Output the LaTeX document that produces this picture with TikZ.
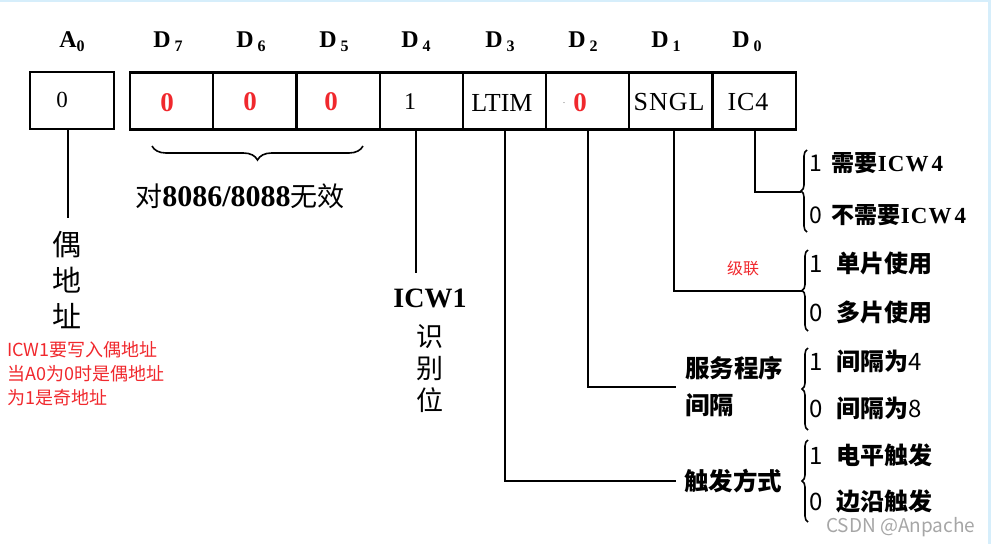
\documentclass[tikz,border=0pt]{standalone}
\usepackage{fontspec}
\setmainfont{Liberation Serif}
\newfontfamily\cjk{Noto Sans CJK SC}
\newcommand{\cjkb}{\cjk\bfseries}
\newcommand{\serb}{\rmfamily}
\usetikzlibrary{decorations.pathreplacing}
\definecolor{redtxt}{HTML}{F0282D}
\definecolor{edgeblue}{HTML}{D6EEFB}
\tikzset{
  cell/.style={draw, line width=2.2pt, minimum width=83.2pt, minimum height=57pt, inner sep=0pt, anchor=center},
  wire/.style={line width=2pt},
  bitlab/.style={font=\fontsize{24}{26}\selectfont\bfseries, inner sep=0pt},
  celltxt/.style={font=\serb\fontsize{26}{28}\selectfont, inner sep=0pt},
  redzero/.style={font=\fontsize{27}{29}\selectfont\bfseries, text=redtxt, inner sep=0pt},
  opt/.style={font=\cjk\fontsize{24}{26}\selectfont, anchor=west, inner sep=0pt},
  big/.style={font=\cjk\fontsize{29}{31}\selectfont, inner sep=0pt},
  brc/.style={decorate, decoration={brace, amplitude=6pt}, line width=1.6pt},
  note/.style={font=\cjk\fontsize{18}{24}\selectfont, text=redtxt, anchor=west, inner sep=0pt, align=left},
}
\newcommand{\bitsub}[1]{\raisebox{-4pt}{\fontsize{16}{16}\selectfont\bfseries #1}}
\begin{document}
\begin{tikzpicture}[x=1pt, y=-1pt]
\useasboundingbox (0,0) rectangle (991,544);
\fill[edgeblue] (0,0) rectangle (991,1.5);
\fill[edgeblue] (988,0) rectangle (991,544);

% bit labels
\node[bitlab] (lA0) at (72,42) {A\bitsub{0}};
\node[bitlab] (lD7) at (168,42) {D\,\bitsub{7}};
\node[bitlab] (lD6) at (251,42) {D\,\bitsub{6}};
\node[bitlab] (lD5) at (334,42) {D\,\bitsub{5}};
\node[bitlab] (lD4) at (416,42) {D\,\bitsub{4}};
\node[bitlab] (lD3) at (500,42) {D\,\bitsub{3}};
\node[bitlab] (lD2) at (583,42) {D\,\bitsub{2}};
\node[bitlab] (lD1) at (666,42) {D\,\bitsub{1}};
\node[bitlab] (lD0) at (747,42) {D\,\bitsub{0}};

% cells
\node[cell, minimum width=84pt] (a0) at (72,100.5) {};
\node[cell] (d7) at (171.6,101) {};
\node[cell] (d6) at (254.8,101) {};
\node[cell] (d5) at (338.0,101) {};
\node[cell] (d4) at (421.2,101) {};
\node[cell] (d3) at (504.4,101) {};
\node[cell] (d2) at (587.6,101) {};
\node[cell] (d1) at (670.8,101) {};
\node[cell] (d0) at (754.0,101) {};

\node[celltxt, font=\fontsize{23}{25}\selectfont] (t0) at (62,100) {0};
\node[redzero] (t7) at (167,103) {0};
\node[redzero] (t6) at (250,102) {0};
\node[redzero] (t5) at (331,102) {0};
\node[celltxt, font=\fontsize{24}{25}\selectfont] (t4) at (410,102) {1};
\node[celltxt] (t3) at (502,103) {LTIM};
\node[celltxt, text=gray] (dot) at (564,103) {\fontsize{10}{10}\selectfont .};
\node[redzero] (t2) at (580,103) {0};
\node[celltxt] (t1) at (669,102) {S\kern1pt N\kern1pt G\kern1pt L};
\node[celltxt] (tc) at (748,102) {I\kern1pt C\kern1pt 4};

% brace under D7-D5
\coordinate (b1) at (363,146);
\coordinate (b2) at (152,146);
\draw[brc, decoration={amplitude=14pt}] (b1) -- (b2);
\node[inner sep=0pt, font=\cjk\fontsize{27}{29}\selectfont] (inval) at (240,196) {对{\rmfamily\bfseries\fontsize{30}{32}\selectfont 8086/8088}无效};

% A0
\node[big, align=center] (even) at (67,280) {偶\\[5pt]地\\[5pt]址};
\draw[wire] ([xshift=-4pt]a0.south) -- ([xshift=-4pt]a0.south |- 0,218) coordinate (ea);
\node[note] (n1) at (7,374) {ICW1要写入偶地址\\当A0为0时是偶地址\\为1是奇地址};

% D4
\coordinate (e4) at (416,273);
\draw[wire] (d4.south -| e4) -- (e4);
\node[inner sep=0pt, align=center, font=\fontsize{28}{30}\selectfont\bfseries] (icw1) at (430,298) {ICW1};
\node[big, align=center, font=\cjk\fontsize{27}{29}\selectfont] (sbw) at (430,369) {识\\[3pt]别\\[3pt]位};

% D0 IC4
\coordinate (k0) at (755,192);
\coordinate (tip0) at (801,192);
\draw[wire] (d0.south -| k0) -- (k0) -- (tip0);
\draw[brc] (807,232) -- (807,150);
\node[opt, font=\cjk\fontsize{23}{24}\selectfont] (o01) at (809,163) {1\hspace{10pt}{\cjkb 需要}{\serb\bfseries I\kern1pt C\kern1pt W\kern3pt 4}};
\node[opt, font=\cjk\fontsize{23}{24}\selectfont] (o00) at (809,215) {0\hspace{10pt}{\cjkb 不需要}{\serb\bfseries I\kern1pt C\kern1pt W\kern3pt 4}};

% D1 SNGL
\coordinate (k1) at (674,291);
\coordinate (tip1) at (802,291);
\draw[wire] (d1.south -| k1) -- (k1) -- (tip1);
\draw[brc] (808,331) -- (808,250);
\node[opt] (o11) at (809,263) {1\hspace{14pt}{\cjkb 单片使用}};
\node[opt] (o10) at (809,312) {0\hspace{14pt}{\cjkb 多片使用}};
\node[inner sep=0pt, font=\cjk\fontsize{16}{17}\selectfont, text=redtxt] (jl) at (743,268) {级联};

% D2
\coordinate (k2) at (588,387);
\coordinate (tip2) at (676,387);
\draw[wire] (d2.south -| k2) -- (k2) -- (tip2);
\node[inner sep=0pt, align=left, anchor=west, font=\cjkb\fontsize{24.5}{37}\selectfont] (svc) at (685,387) {服务程序\\间隔};
\draw[brc] (808,430) -- (808,348);
\node[opt] (o21) at (809,361) {1\hspace{14pt}{\cjkb 间隔为}4};
\node[opt] (o20) at (809,408) {0\hspace{14pt}{\cjkb 间隔为}8};

% D3
\coordinate (k3) at (505,481);
\coordinate (tip3) at (676,481);
\draw[wire] (d3.south -| k3) -- (k3) -- (tip3);
\node[inner sep=0pt, anchor=west, font=\cjkb\fontsize{24.5}{26}\selectfont] (trg) at (684,481) {触发方式};
\draw[brc] (808,522) -- (808,440);
\node[opt] (o31) at (809,455) {1\hspace{14pt}{\cjkb 电平触发}};
\node[opt] (o30) at (809,501) {0\hspace{14pt}{\cjkb 边沿触发}};

% watermark
\node[inner sep=0pt, anchor=west, text=black!35, font=\cjk\fontsize{19}{21}\selectfont] (wm) at (826,527) {CSDN @Anpache};
\end{tikzpicture}
\end{document}
